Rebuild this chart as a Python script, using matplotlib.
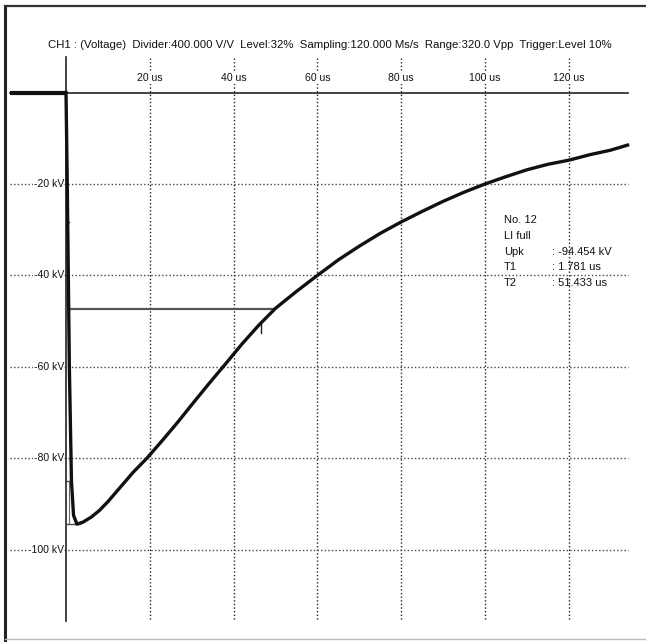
import matplotlib
matplotlib.use("Agg")
import matplotlib.pyplot as plt

plt.rcParams['font.family'] = ['Liberation Sans', 'DejaVu Sans']

# impulse record (time in us, voltage in kV)
pre_t = [-13.4, 0.0]
pre_v = [0.0, 0.0]
wave_t = [0.0, 0.3, 0.8, 1.3, 1.8, 2.6, 4, 6, 8, 10, 13, 16, 19.3, 23, 26.5, 30,
          34, 38.4, 42, 46, 50, 55, 60, 65, 70, 75, 80, 85, 90, 95, 100, 105,
          110, 115, 120, 125, 130, 134]
wave_v = [0.0, -20, -60, -85, -92.5, -94.4, -94.0, -92.9, -91.4, -89.5, -86.3,
          -83.1, -80, -76.1, -72.3, -68.3, -63.8, -59.0, -55.0, -50.9, -47.2,
          -43.5, -40, -36.6, -33.6, -30.8, -28.3, -26, -23.8, -21.8, -20,
          -18.4, -16.9, -15.7, -14.8, -13.6, -12.6, -11.5]

x_ticks = [20, 40, 60, 80, 100, 120]
x_labels = ['20 us', '40 us', '60 us', '80 us', '100 us', '120 us']
y_ticks = [-20, -40, -60, -80, -100]
y_labels = ['-20 kV', '-40 kV', '-60 kV', '-80 kV', '-100 kV']

upk = -94.454
t2_level = -47.4
t2_end = 49.5
level_30 = -28.3
level_90 = -85.0

title = ("CH1 : (Voltage)  Divider:400.000 V/V  Level:32%  Sampling:120.000 Ms/s  "
         "Range:320.0 Vpp  Trigger:Level 10%")
info_keys = ['No. 12', 'LI full', 'Upk', 'T1', 'T2']
info_vals = ['', '', ': -94.454 kV', ': 1.781 us', ': 51.433 us']

fig = plt.figure(figsize=(6.46, 6.42), dpi=100)
ax = fig.add_axes([0, 0, 1, 1])
ax.set_xlim(-15.75, 138.4)
ax.set_ylim(-120.2, 20.24)
ax.axis('off')

# outer frame
fig.add_artist(plt.Line2D([0.007, 0.007], [0.003, 0.99], color='#222222', lw=2.2))
fig.add_artist(plt.Line2D([0.007, 1.0], [0.99, 0.99], color='#333333', lw=1.6))
fig.add_artist(plt.Line2D([0.007, 1.0], [0.004, 0.004], color='#bbbbbb', lw=1.0))

# grid
for t in x_ticks:
    ax.plot([t, t], [7.5, -115.6], color='#222222', lw=1.0, ls=(0, (1, 1.6)))
for v in y_ticks:
    ax.plot([-13.4, 134], [v, v], color='#444444', lw=1.0, ls=(0, (1, 1.6)))

# axes lines
ax.plot([-13.4, 134], [0, 0], color='#222222', lw=1.2)
ax.plot([0, 0], [7.7, -115.6], color='#222222', lw=1.2)

for t, lab in zip(x_ticks, x_labels):
    ax.text(t, 3.1, lab, ha='center', va='center', fontsize=7.6, color='#111111',
            bbox=dict(facecolor='white', edgecolor='none', pad=0.6))
for v, lab in zip(y_ticks, y_labels):
    ax.text(-0.5, v, lab, ha='right', va='center', fontsize=7.6, color='#111111',
            bbox=dict(facecolor='white', edgecolor='none', pad=0.4))

ax.text(-4.3, 10.3, title, ha='left', va='center', fontsize=8.2, color='#111111')

# measurement markers
ax.plot([0, t2_end], [t2_level, t2_level], color='#555555', lw=1.6)
ax.plot([46.5, 46.5], [-50.6, -52.6], color='#222222', lw=1.0)
ax.plot([0, 3.3], [upk, upk], color='#444444', lw=1.0)
ax.plot([0, 1.3], [level_90, level_90], color='#444444', lw=1.0)
ax.plot([0, 0.6], [level_30, level_30], color='#444444', lw=1.0)
ax.plot([0.8, 0.8], [level_90, upk], color='#666666', lw=0.8)

# waveform
ax.plot(pre_t, pre_v, color='#111111', lw=3.0, solid_capstyle='butt')
ax.plot(wave_t, wave_v, color='#111111', lw=2.4, solid_joinstyle='round')

# info block
for i, (k, val) in enumerate(zip(info_keys, info_vals)):
    y = -27.9 - i * 3.45
    ax.text(104.5, y, k, ha='left', va='center', fontsize=8.0, color='#111111')
    if val:
        ax.text(116.0, y, val, ha='left', va='center', fontsize=8.0, color='#111111')

fig.savefig('out.png', dpi=100)
